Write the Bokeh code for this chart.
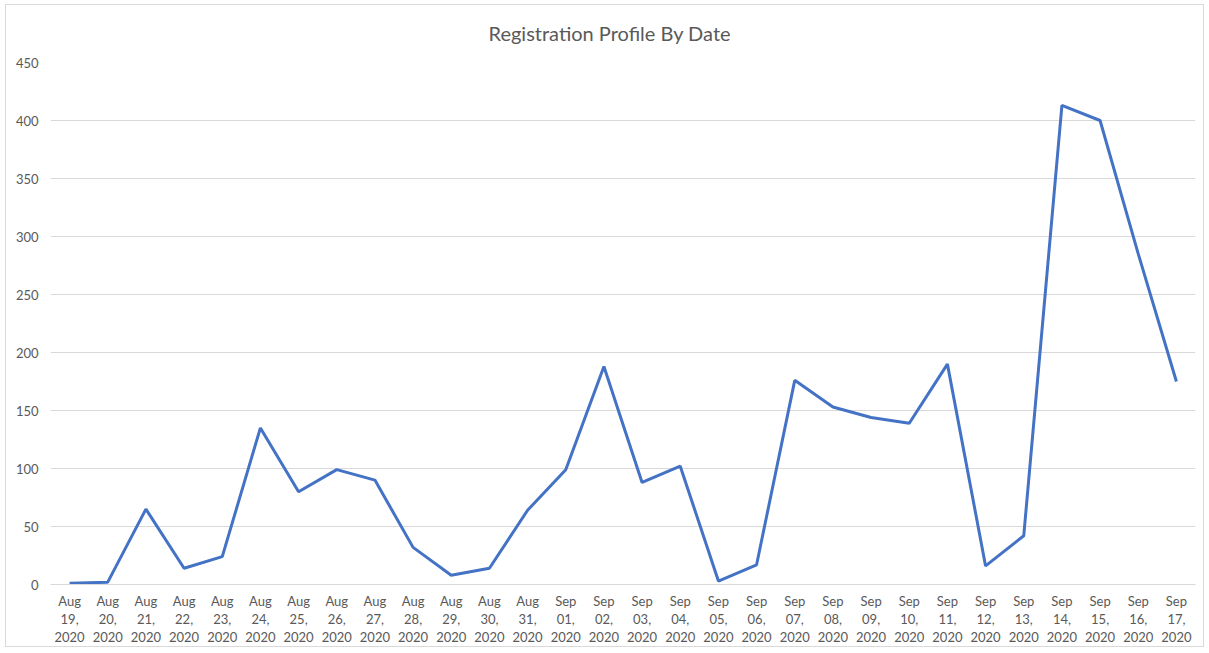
from bokeh.plotting import figure
from bokeh.models import FixedTicker, Range1d
from bokeh.embed import file_html
from bokeh.resources import INLINE

dates = ["Aug 19, 2020", "Aug 20, 2020", "Aug 21, 2020", "Aug 22, 2020", "Aug 23, 2020",
         "Aug 24, 2020", "Aug 25, 2020", "Aug 26, 2020", "Aug 27, 2020", "Aug 28, 2020",
         "Aug 29, 2020", "Aug 30, 2020", "Aug 31, 2020", "Sep 01, 2020", "Sep 02, 2020",
         "Sep 03, 2020", "Sep 04, 2020", "Sep 05, 2020", "Sep 06, 2020", "Sep 07, 2020",
         "Sep 08, 2020", "Sep 09, 2020", "Sep 10, 2020", "Sep 11, 2020", "Sep 12, 2020",
         "Sep 13, 2020", "Sep 14, 2020", "Sep 15, 2020", "Sep 16, 2020", "Sep 17, 2020"]
registrations = [1, 2, 65, 14, 24, 135, 80, 99, 90, 32, 8, 14, 64, 99, 188,
                 88, 102, 3, 17, 176, 153, 144, 139, 190, 16, 42, 413, 400, 285, 175]
y_ticks = [0, 50, 100, 150, 200, 250, 300, 350, 400, 450]

xs = list(range(len(dates)))

p = figure(width=1199, height=643, output_backend="svg", toolbar_location=None,
           x_range=Range1d(-0.5, len(dates) - 0.5), y_range=Range1d(0, 450),
           title="Registration Profile By Date",
           min_border_left=44, min_border_right=10, min_border_top=57, min_border_bottom=63)
p.styles = {"border": "1px solid #d9d9d9", "margin": "4px 0 0 5px"}

p.title.align = "left"
p.title.offset = 438
p.title.text_font = "Lato"
p.title.text_font_size = "20px"
p.title.text_font_style = "normal"
p.title.text_color = "#595959"
p.title.standoff = 31
p.title.vertical_align = "top"

p.line(xs, registrations, line_color="#4472C4", line_width=3)

p.outline_line_color = None
p.xgrid.grid_line_color = None
p.ygrid.grid_line_color = "#d9d9d9"
p.ygrid.grid_line_width = 1

p.yaxis.ticker = FixedTicker(ticks=y_ticks)
p.yaxis.axis_line_color = None
p.yaxis.major_tick_line_color = None
p.yaxis.minor_tick_line_color = None
p.yaxis.major_tick_out = 0
p.yaxis.major_tick_in = 0
p.yaxis.minor_tick_out = 0
p.yaxis.major_label_text_font = "Lato"
p.yaxis.major_label_text_font_size = "13px"
p.yaxis.major_label_text_color = "#595959"
p.yaxis.major_label_standoff = 12

p.xaxis.ticker = FixedTicker(ticks=xs)
p.xaxis.major_label_overrides = {i: d.replace(" ", "\n") for i, d in zip(xs, dates)}
p.xaxis.axis_line_color = "#d9d9d9"
p.xaxis.major_tick_line_color = None
p.xaxis.minor_tick_line_color = None
p.xaxis.major_tick_out = 0
p.xaxis.major_tick_in = 0
p.xaxis.minor_tick_out = 0
p.xaxis.major_label_text_font = "Lato"
p.xaxis.major_label_text_font_size = "13px"
p.xaxis.major_label_text_line_height = 1.15
p.xaxis.major_label_text_color = "#595959"
p.xaxis.major_label_standoff = 8

open("out.html", "w").write(file_html(p, INLINE))
